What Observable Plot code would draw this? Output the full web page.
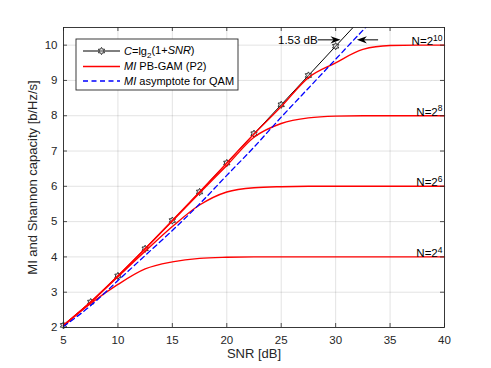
<!DOCTYPE html>
<html><head><meta charset="utf-8">
<script src="https://cdn.jsdelivr.net/npm/d3@7"></script>
<script src="https://cdn.jsdelivr.net/npm/@observablehq/plot@0.6"></script>
<style>
body{margin:0;background:#fff;}
#chart svg{display:block;font-family:"Liberation Sans",Arial,Helvetica,sans-serif;}
</style></head><body><div id="chart"></div>
<script>
// ---- data ----
const xTicks = [5, 10, 15, 20, 25, 30, 35, 40];
const yTicks = [2, 3, 4, 5, 6, 7, 8, 9, 10];

// Shannon capacity C = lg2(1+SNR), markers every 2.5 dB
const capSnr = [5, 7.5, 10, 12.5, 15, 17.5, 20, 22.5, 25, 27.5, 30, 31.6];
const capVal = [2.06, 2.72, 3.46, 4.23, 5.03, 5.84, 6.66, 7.49, 8.31, 9.14, 9.97, 10.5];
const capMarkerCount = 11;

// MI PB-GAM (P2) curves
const miSnr = [5, 7.5, 10, 12.5, 15, 17.5, 20, 22.5, 25, 27.5, 30, 32.5, 35, 37.5, 40];
const mi16   = [2.05, 2.68, 3.22, 3.66, 3.86, 3.96, 3.99, 4.0, 4.0, 4.0, 4.0, 4.0, 4.0, 4.0, 4.0];
const mi64   = [2.06, 2.72, 3.44, 4.16, 4.86, 5.47, 5.84, 5.96, 5.99, 6.0, 6.0, 6.0, 6.0, 6.0, 6.0];
const mi256  = [2.06, 2.72, 3.46, 4.23, 5.02, 5.81, 6.59, 7.39, 7.78, 7.94, 7.99, 8.0, 8.0, 8.0, 8.0];
const mi1024 = [2.06, 2.72, 3.46, 4.23, 5.03, 5.84, 6.66, 7.48, 8.26, 9.08, 9.5, 9.88, 9.99, 10.0, 10.0];

// MI asymptote for QAM
const asymSnr = [5, 7.5, 10, 12.5, 15, 17.5, 20, 22.5, 25, 27.5, 30, 32.5, 33];
const asymVal = [2.03, 2.62, 3.33, 4.04, 4.75, 5.5, 6.31, 7.11, 7.96, 8.78, 9.6, 10.42, 10.58];

// curve labels
const nExponents = [4, 6, 8, 10];
const nLevels = [4, 6, 8, 10];

// 1.53 dB gap annotation
const gapText = "1.53 dB";
const gapY = 10.15;
const gapRight = [28.35, 30.45]; // tail, tip
const gapLeft = [33.9, 31.95];   // tail, tip

// ---- build ----
const cap = capSnr.map((s, i) => ({s, v: capVal[i]}));
const capMarkers = cap.slice(0, capMarkerCount);
const series = [mi16, mi64, mi256, mi1024].map(arr => miSnr.map((s, i) => ({s, v: arr[i]})));
const asym = asymSnr.map((s, i) => ({s, v: asymVal[i]}));

const hexagram = {draw(ctx, size) {
  const R = Math.sqrt(size / Math.PI), r = R / Math.sqrt(3);
  for (let k = 0; k < 12; k++) {
    const a = -Math.PI / 2 + k * Math.PI / 6, rr = k % 2 === 0 ? R : r;
    const x = rr * Math.cos(a), y = rr * Math.sin(a);
    k === 0 ? ctx.moveTo(x, y) : ctx.lineTo(x, y);
  }
  ctx.closePath();
}};
const headRight = {draw(ctx) { const L = 10, W = 3.6; ctx.moveTo(0, 0); ctx.lineTo(-L, -W); ctx.lineTo(-0.7 * L, 0); ctx.lineTo(-L, W); ctx.closePath(); }};
const headLeft = {draw(ctx) { const L = 10, W = 3.6; ctx.moveTo(0, 0); ctx.lineTo(L, -W); ctx.lineTo(0.7 * L, 0); ctx.lineTo(L, W); ctx.closePath(); }};

const W = 491, H = 368, mL = 63, mR = 47, mT = 27, mB = 41;
const innerW = W - mL - mR, innerH = H - mT - mB;
const axisColor = "#262626";

const plot = Plot.plot({
  width: W, height: H,
  marginLeft: mL, marginRight: mR, marginTop: mT, marginBottom: mB,
  style: {fontSize: "11.5px", color: axisColor, background: "#fff", overflow: "visible"},
  x: {domain: [5, 40]},
  y: {domain: [2, 10.5]},
  marks: [
    Plot.gridX(xTicks, {stroke: axisColor, strokeOpacity: 0.13, strokeWidth: 1}),
    Plot.gridY(yTicks, {stroke: axisColor, strokeOpacity: 0.13, strokeWidth: 1}),
    Plot.line(cap, {x: "s", y: "v", stroke: "#000", strokeWidth: 1, clip: true}),
    Plot.dot(capMarkers, {x: "s", y: "v", symbol: hexagram, r: 3.6, stroke: "#333", strokeWidth: 1, fill: "#bbb", fillOpacity: 0.4}),
    ...series.map(d => Plot.line(d, {x: "s", y: "v", stroke: "#ff0000", strokeWidth: 1.4, curve: "monotone-x"})),
    Plot.line(asym, {x: "s", y: "v", stroke: "#0000ff", strokeWidth: 1.3, strokeDasharray: "5,3.5", curve: "monotone-x", clip: true}),
    Plot.text(nExponents, {x: () => 40, y: (d, i) => nLevels[i], text: d => "N=2^" + d, textAnchor: "end", lineAnchor: "bottom", dx: -2, dy: 0, fill: "#000", fontSize: 11.5}),
    Plot.link([0], {x1: gapRight[0], x2: gapRight[1] - 0.5, y1: gapY, y2: gapY, stroke: "#000", strokeWidth: 1}),
    Plot.link([0], {x1: gapLeft[0], x2: gapLeft[1] + 0.5, y1: gapY, y2: gapY, stroke: "#000", strokeWidth: 1}),
    Plot.dot([0], {x: gapRight[1], y: gapY, symbol: headRight, r: 1, fill: "#000", stroke: "none"}),
    Plot.dot([0], {x: gapLeft[1], y: gapY, symbol: headLeft, r: 1, fill: "#000", stroke: "none"}),
    Plot.text([gapText], {x: gapRight[0], y: gapY, text: d => d, textAnchor: "end", fill: "#000", fontSize: 11.5, dx: 0}),
    Plot.tickX(xTicks, {x: d => d, insetTop: innerH - 4, stroke: axisColor, strokeWidth: 0.8}),
    Plot.tickX(xTicks, {x: d => d, insetBottom: innerH - 4, stroke: axisColor, strokeWidth: 0.8}),
    Plot.tickY(yTicks, {y: d => d, insetRight: innerW - 4, stroke: axisColor, strokeWidth: 0.8}),
    Plot.tickY(yTicks, {y: d => d, insetLeft: innerW - 4, stroke: axisColor, strokeWidth: 0.8}),
    Plot.axisX(xTicks, {tickSize: 0, tickPadding: 8, label: null, fontSize: 11.5}),
    Plot.axisY(yTicks, {tickSize: 0, tickPadding: 6, label: null, fontSize: 11.5}),
    Plot.frame({stroke: axisColor, strokeWidth: 0.9}),
    Plot.text(["SNR [dB]"], {frameAnchor: "bottom", dy: 30, fontSize: 13, fill: axisColor}),
    Plot.text(["MI and Shannon capacity [b/Hz/s]"], {frameAnchor: "left", textAnchor: "middle", dx: -31, rotate: -90, fontSize: 13, fill: axisColor})
  ]
});

// superscripts for N=2^k labels
d3.select(plot).selectAll("text").each(function() {
  const t = d3.select(this);
  if (t.selectAll("tspan").size() > 0) return;
  const m = /^N=2\^(\d+)$/.exec(t.text());
  if (!m) return;
  t.text("");
  t.append("tspan").text("N=2");
  t.append("tspan").attr("dy", "-0.5em").attr("font-size", "8.5px").text(m[1]);
});

// legend (inside axes, upper left)
const lg = d3.select(plot).append("g").attr("font-size", "11px").attr("fill", "#000").attr("text-anchor", "start");
lg.append("rect").attr("x", 76).attr("y", 39).attr("width", 162).attr("height", 51)
  .attr("fill", "#fff").attr("stroke", axisColor).attr("stroke-width", 0.9);
const rows = [51, 66.5, 81];
lg.append("line").attr("x1", 83).attr("x2", 120).attr("y1", rows[0]).attr("y2", rows[0]).attr("stroke", "#000").attr("stroke-width", 1);
lg.append("path").attr("d", d3.symbol(hexagram, Math.PI * 3.6 * 3.6)()).attr("transform", `translate(101.5,${rows[0]})`)
  .attr("stroke", "#333").attr("fill", "#bbb").attr("fill-opacity", 0.4);
lg.append("line").attr("x1", 83).attr("x2", 120).attr("y1", rows[1]).attr("y2", rows[1]).attr("stroke", "#ff0000").attr("stroke-width", 1.4);
lg.append("line").attr("x1", 83).attr("x2", 120).attr("y1", rows[2]).attr("y2", rows[2]).attr("stroke", "#0000ff").attr("stroke-width", 1.3).attr("stroke-dasharray", "5,3.5");
const t1 = lg.append("text").attr("x", 124).attr("y", rows[0]).attr("dy", "0.35em");
t1.append("tspan").attr("font-style", "italic").text("C");
t1.append("tspan").text("=lg");
t1.append("tspan").attr("font-size", "8px").attr("dy", "0.35em").text("2");
t1.append("tspan").attr("dy", "-0.35em").text("(1+");
t1.append("tspan").attr("font-style", "italic").text("SNR");
t1.append("tspan").text(")");
const t2 = lg.append("text").attr("x", 124).attr("y", rows[1]).attr("dy", "0.35em");
t2.append("tspan").attr("font-style", "italic").text("MI");
t2.append("tspan").text(" PB-GAM (P2)");
const t3 = lg.append("text").attr("x", 124).attr("y", rows[2]).attr("dy", "0.35em");
t3.append("tspan").attr("font-style", "italic").text("MI");
t3.append("tspan").text(" asymptote for QAM");

document.getElementById("chart").appendChild(plot);
</script>
</body></html>
